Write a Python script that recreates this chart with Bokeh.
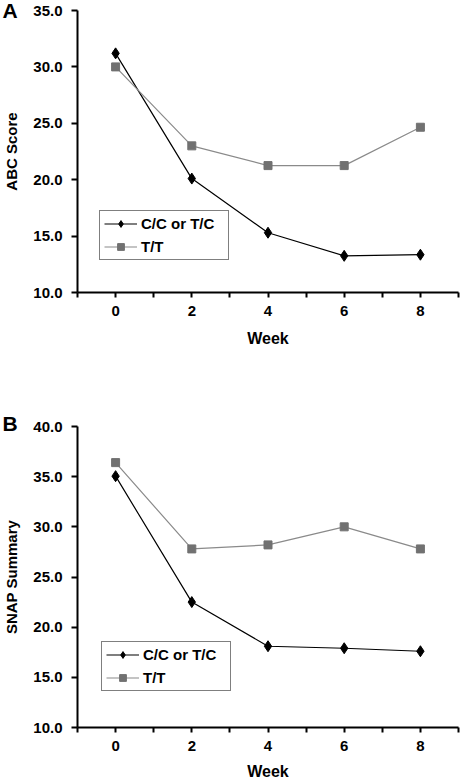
from bokeh.plotting import figure
from bokeh.layouts import column
from bokeh.models import FixedTicker, NumeralTickFormatter, Range1d, Legend, LegendItem, Title
from bokeh.embed import file_html
from bokeh.resources import INLINE

weeks = [0, 2, 4, 6, 8]
abc_cc = [31.2, 20.1, 15.3, 13.25, 13.35]
abc_tt = [30.0, 23.0, 21.25, 21.25, 24.65]
snap_cc = [35.05, 22.5, 18.1, 17.9, 17.6]
snap_tt = [36.4, 27.8, 28.2, 30.0, 27.8]
x_major = [0, 2, 4, 6, 8]
x_minor = [-1, 1, 3, 5, 7, 9]
abc_yticks = [10, 15, 20, 25, 30, 35]
snap_yticks = [10, 15, 20, 25, 30, 35, 40]

FONT = "Liberation Sans"
BLACK = "#000000"
GRAY_LINE = "#8a8a8a"
GRAY_MARK = "#717171"


def make_panel(ylabel, cc, tt, ymax, yticks, height, bt, bb, bl, br, leg_xy, xlab_standoff):
    p = figure(width=474, height=height, output_backend="svg", toolbar_location=None,
               x_range=Range1d(-1, 9), y_range=Range1d(10, ymax),
               min_border_left=bl, min_border_right=br, min_border_top=bt, min_border_bottom=bb)
    p.outline_line_color = None
    p.xgrid.grid_line_color = None
    p.ygrid.grid_line_color = None
    p.background_fill_color = "white"
    p.border_fill_color = "white"

    xa = p.xaxis[0]
    xa.ticker = FixedTicker(ticks=x_major, minor_ticks=x_minor)
    xa.axis_line_width = 2
    xa.major_tick_line_width = 2
    xa.minor_tick_line_width = 2
    xa.major_tick_in = 0
    xa.major_tick_out = 5
    xa.minor_tick_in = 0
    xa.minor_tick_out = 5
    xa.major_label_text_font = FONT
    xa.major_label_text_font_style = "bold"
    xa.major_label_text_font_size = "15px"
    xa.major_label_text_color = BLACK
    xa.major_label_standoff = 8
    xa.axis_label = "Week"
    xa.axis_label_text_font = FONT
    xa.axis_label_text_font_style = "bold"
    xa.axis_label_text_font_size = "16px"
    xa.axis_label_text_color = BLACK
    xa.axis_label_standoff = xlab_standoff

    ya = p.yaxis[0]
    ya.ticker = FixedTicker(ticks=yticks, minor_ticks=[])
    ya.formatter = NumeralTickFormatter(format="0.0")
    ya.axis_line_width = 2
    ya.major_tick_line_width = 2
    ya.major_tick_in = 0
    ya.major_tick_out = 6
    ya.minor_tick_out = 0
    ya.minor_tick_in = 0
    ya.major_label_text_font = FONT
    ya.major_label_text_font_style = "bold"
    ya.major_label_text_font_size = "15px"
    ya.major_label_text_color = BLACK
    ya.major_label_standoff = 9
    ya.axis_label = ylabel
    ya.axis_label_text_font = FONT
    ya.axis_label_text_font_style = "bold"
    ya.axis_label_text_font_size = "15px"
    ya.axis_label_text_color = BLACK
    ya.axis_label_standoff = 10

    l1 = p.line(weeks, cc, line_color=BLACK, line_width=1.2)
    m1 = p.scatter(weeks, cc, marker="diamond", size=11, fill_color=BLACK, line_color=BLACK)
    l2 = p.line(weeks, tt, line_color=GRAY_LINE, line_width=1.2)
    m2 = p.scatter(weeks, tt, marker="square", size=8, fill_color=GRAY_MARK, line_color=GRAY_MARK)

    legend = Legend(items=[LegendItem(label="C/C or T/C", renderers=[l1, m1]),
                           LegendItem(label="T/T", renderers=[l2, m2])],
                    location=leg_xy, orientation="vertical")
    legend.border_line_color = BLACK
    legend.border_line_width = 1
    legend.background_fill_color = "white"
    legend.background_fill_alpha = 1
    legend.padding = 4
    legend.spacing = 6
    legend.margin = 0
    legend.glyph_width = 33
    legend.glyph_height = 17
    legend.label_height = 17
    legend.label_width = 83
    legend.label_standoff = 4
    legend.label_text_font = FONT
    legend.label_text_font_style = "bold"
    legend.label_text_font_size = "15px"
    legend.label_text_color = BLACK
    legend.label_text_baseline = "middle"
    p.add_layout(legend, "center")
    return p


pa = make_panel("ABC Score", abc_cc, abc_tt, 35, abc_yticks,
                height=365, bt=10, bb=73, bl=77, br=16, leg_xy=(22, 32), xlab_standoff=11)
pb = make_panel("SNAP Summary", snap_cc, snap_tt, 40, snap_yticks,
                height=417, bt=61, bb=53, bl=77, br=4, leg_xy=(24, 36), xlab_standoff=9)

# panel letters
ta = Title(text="A", align="left", offset=-75, vertical_align="middle", standoff=-30,
           text_font=FONT, text_font_style="bold", text_font_size="21px", text_color=BLACK)
pa.add_layout(ta, "above")
tb = Title(text="B", align="left", offset=-75, vertical_align="middle", standoff=-18,
           text_font=FONT, text_font_style="bold", text_font_size="21px", text_color=BLACK)
pb.add_layout(tb, "above")

layout = column(pa, pb, spacing=0)
open("out.html", "w").write(file_html(layout, INLINE))
